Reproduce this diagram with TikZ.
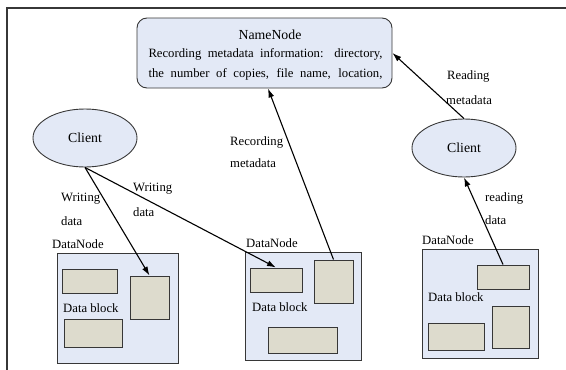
\documentclass[tikz,border=0pt]{standalone}
\usepackage{fontspec}
\setmainfont{Liberation Serif}
\usetikzlibrary{arrows.meta,shapes.geometric,calc}
\definecolor{nodeblue}{RGB}{227,233,246}
\definecolor{blockfill}{RGB}{221,219,205}
\definecolor{edgegray}{RGB}{55,55,55}
\begin{document}
\begin{tikzpicture}[x=1pt,y=-1pt,
  txt/.style={font=\fontsize{12.7}{15}\selectfont, inner sep=0pt},
  lbl/.style={txt, anchor=west},
  dnbox/.style={draw=edgegray, fill=nodeblue, line width=0.9pt, inner sep=0pt},
  blk/.style={draw=edgegray, fill=blockfill, line width=1pt, inner sep=0pt},
  client/.style={ellipse, draw=edgegray, fill=nodeblue, line width=0.9pt, inner sep=0pt,
     minimum width=104pt, minimum height=58pt, font=\fontsize{13.8}{16}\selectfont},
  conn/.style={black, line width=1.1pt, -{Latex[length=9pt,width=6pt]}}
]
\useasboundingbox (0,0) rectangle (566,370);
% frame
\draw[edgegray, line width=1.2pt] (7,370) -- (7,8) -- (566,8);

% NameNode
\node[draw=edgegray, fill=nodeblue, line width=0.9pt, rounded corners=10pt, inner sep=0pt,
      minimum width=255pt, minimum height=70pt] (nn) at (264.5,53) {};
\node[txt, font=\fontsize{13.8}{16}\selectfont] (nntitle) at (270,35) {NameNode};
\node[txt] (nnl1) at (265.5,54) {\makebox[234pt][s]{Recording metadata information: directory,}};
\node[txt] (nnl2) at (265.5,74) {\makebox[234pt][s]{the number of copies, file name, location,}};

% Clients
\node[client] (c1) at (85,138) {Client};
\node[client] (c2) at (464,148) {Client};

% DataNode 1
\node[dnbox, minimum width=121pt, minimum height=110pt] (dn1) at (117.5,308) {};
\node[lbl] (dn1lbl) at (52,244) {DataNode};
\node[blk, minimum width=55pt, minimum height=24pt] (b1a) at (89.5,281) {};
\node[blk, minimum width=39pt, minimum height=43pt] (b1b) at (149.5,297.5) {};
\node[blk, minimum width=58pt, minimum height=28pt] (b1c) at (93,333) {};
\node[lbl] (dn1txt) at (63,308) {Data block};

% DataNode 2
\node[dnbox, minimum width=116pt, minimum height=108pt] (dn2) at (303,306) {};
\node[lbl] (dn2lbl) at (246,243) {DataNode};
\node[blk, minimum width=52pt, minimum height=24pt] (b2a) at (276,280) {};
\node[blk, minimum width=39pt, minimum height=43pt] (b2b) at (333.5,281.5) {};
\node[blk, minimum width=69pt, minimum height=26pt] (b2c) at (302.5,340) {};
\node[lbl] (dn2txt) at (252,307) {Data block};

% DataNode 3
\node[dnbox, minimum width=116pt, minimum height=109pt] (dn3) at (480,303.5) {};
\node[lbl] (dn3lbl) at (422,240) {DataNode};
\node[blk, minimum width=52pt, minimum height=24pt] (b3a) at (503,277) {};
\node[blk, minimum width=37pt, minimum height=42pt] (b3b) at (510.5,327) {};
\node[blk, minimum width=56pt, minimum height=27pt] (b3c) at (456,336.5) {};
\node[lbl] (dn3txt) at (428,297) {Data block};

% connectors
\coordinate (nnrec) at (268,88.5);
\draw[conn] (c1.south) -- (b1b.north);
\draw[conn] (c1.south) -- (b2a.north);
\draw[conn] (b2b.north) -- (nnrec);
\draw[conn] (c2.north) -- (nn.east);
\draw[conn] (b3a.north) -- (c2.south);

% labels
\node[lbl] (w1a) at (61,199) {Writing};
\node[lbl] (w1b) at (61,221) {data};
\node[lbl] (w2a) at (133,189) {Writing};
\node[lbl] (w2b) at (133,212) {data};
\node[lbl] (r1a) at (230,142) {Recording};
\node[lbl] (r1b) at (230,163) {metadata};
\node[lbl] (r2a) at (447,76) {Reading};
\node[lbl] (r2b) at (446,100) {metadata};
\node[lbl] (r3a) at (485,198) {reading};
\node[lbl] (r3b) at (485,220) {data};
\end{tikzpicture}
\end{document}
